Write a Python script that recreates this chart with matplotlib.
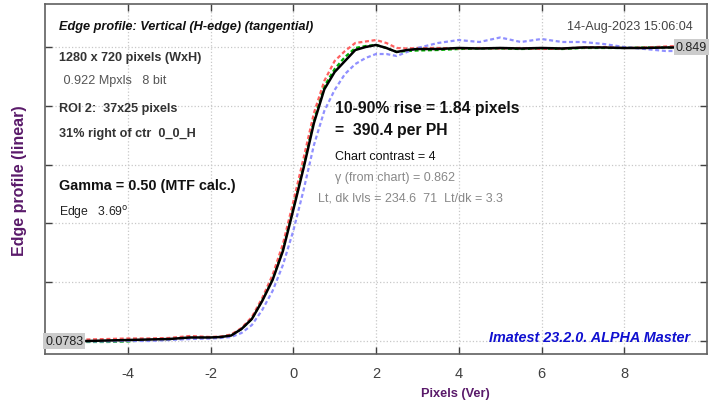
import numpy as np
import matplotlib
matplotlib.use("Agg")
import matplotlib.pyplot as plt

plt.rcParams['font.family'] = ['Liberation Sans', 'DejaVu Sans']
plt.rcParams['axes.unicode_minus'] = False

# edge profile samples (x in pixels, y linear level)
x_pix = [-5, -4.5, -4, -3.5, -3, -2.5, -2, -1.75, -1.5, -1.25, -1, -0.75, -0.5, -0.25,
         0, 0.25, 0.5, 0.75, 1, 1.25, 1.5, 1.75, 2, 2.25, 2.5, 2.75, 3, 3.5, 4, 4.5,
         5, 5.5, 6, 6.5, 7, 7.5, 8, 8.5, 9, 9.25]
black_y = [0.0783, 0.0796, 0.0809, 0.0822, 0.0835, 0.0875, 0.0875, 0.0888, 0.0927, 0.1098,
           0.1360, 0.1832, 0.2382, 0.3142, 0.4217, 0.5318, 0.6498, 0.7380, 0.7834, 0.8123,
           0.8411, 0.8490, 0.8543, 0.8464, 0.8359, 0.8411, 0.8437, 0.8437, 0.8464, 0.8451,
           0.8464, 0.8451, 0.8464, 0.8451, 0.8477, 0.8477, 0.8464, 0.8464, 0.8477, 0.8477]
red_y = [0.0822, 0.0835, 0.0849, 0.0849, 0.0862, 0.0914, 0.0888, 0.0901, 0.0953, 0.1124,
         0.1412, 0.1910, 0.2513, 0.3326, 0.4427, 0.5580, 0.6760, 0.7600, 0.8123, 0.8385,
         0.8595, 0.8634, 0.8673, 0.8595, 0.8464, 0.8451, 0.8464, 0.8464, 0.8451, 0.8464,
         0.8451, 0.8464, 0.8437, 0.8451, 0.8477, 0.8490, 0.8464, 0.8477, 0.8503, 0.8516]
blue_y = [0.0770, 0.0770, 0.0783, 0.0783, 0.0809, 0.0835, 0.0849, 0.0862, 0.0888, 0.0993,
          0.1202, 0.1596, 0.2094, 0.2775, 0.3667, 0.4741, 0.5921, 0.6812, 0.7363, 0.7782,
          0.8044, 0.8202, 0.8306, 0.8306, 0.8254, 0.8359, 0.8464, 0.8595, 0.8673, 0.8621,
          0.8739, 0.8621, 0.8700, 0.8621, 0.8621, 0.8569, 0.8490, 0.8437, 0.8385, 0.8385]
green_y = [0.0757, 0.0757, 0.0770, 0.0809, 0.0822, 0.0862, 0.0875, 0.0888, 0.0940, 0.1098,
           0.1360, 0.1858, 0.2408, 0.3195, 0.4270, 0.5397, 0.6576, 0.7460, 0.7913, 0.8228,
           0.8464, 0.8516, 0.8543, 0.8464, 0.8359, 0.8385, 0.8398, 0.8411, 0.8437, 0.8451,
           0.8451, 0.8437, 0.8451, 0.8437, 0.8464, 0.8464, 0.8464, 0.8477, 0.8477, 0.8477]

dark_lvl = 0.0783
light_lvl = 0.849
x_ticks = [-4, -2, 0, 2, 4, 6, 8]

fig = plt.figure(figsize=(7.15, 4.02), dpi=100)
ax = fig.add_axes([45/715, 1-355/402, 662/715, 350/402])

ax.plot(x_pix, green_y, color='#00b000', lw=1.6, ls=(0, (1.8, 1.2)))
ax.plot(x_pix, red_y, color='#ff6060', lw=1.6, ls=(0, (1.8, 1.2)))
ax.plot(x_pix, blue_y, color='#9090ff', lw=1.6, ls=(0, (1.8, 1.2)))
ax.plot(x_pix, black_y, color='black', lw=1.8)

ax.set_xlim(-6, 10)
ax.set_ylim(0.0442, 0.9617)
ax.set_xticks(x_ticks)
ax.set_yticks(np.linspace(dark_lvl, light_lvl, 6))
ax.set_yticklabels([])
ax.grid(True, color='#c8c8c8', ls=':', lw=0.9)
ax.tick_params(direction='in', top=True, right=True, length=5, width=1,
               colors='#404040', labelsize=10.5, pad=9)
ax.tick_params(axis='y', left=True, right=True)
for sp in ax.spines.values():
    sp.set_color('#606060')
    sp.set_linewidth(1.2)

purple = '#5a1a6a'
fig.text(455/715, 1-394/402, 'Pixels (Ver)', color=purple, fontsize=9.2,
         fontweight='bold', ha='center', va='center')
fig.text(20/715, 1-181/402, 'Edge profile (linear)', color=purple, fontsize=11.5,
         fontweight='bold', ha='center', va='center', rotation=90)

def ftxt(px, py, s, **kw):
    fig.text(px/715, 1-py/402, s, va='center', **kw)

ftxt(59, 27, 'Edge profile: Vertical (H-edge) (tangential)', fontsize=9.2,
     fontweight='bold', fontstyle='italic', color='#111111')
ftxt(693, 27, '14-Aug-2023 15:06:04', fontsize=9.1, color='#444444', ha='right')
ftxt(59, 58, '1280 x 720 pixels (WxH)', fontsize=9.1, fontweight='bold', color='#333333')
ftxt(60, 81, ' 0.922 Mpxls   8 bit', fontsize=9.1, color='#555555')
ftxt(59, 109, 'ROI 2:  37x25 pixels', fontsize=9.1, fontweight='bold', color='#333333')
ftxt(59, 134, '31% right of ctr  0_0_H', fontsize=9.1, fontweight='bold', color='#333333')
ftxt(59, 186, 'Gamma = 0.50 (MTF calc.)', fontsize=10.4, fontweight='bold', color='#111111')
ftxt(59, 213, r'Edge   3.69$^{\rm o}$', fontsize=8.8, color='#222222')
ftxt(335, 109, '10-90% rise = 1.84 pixels', fontsize=11.3, fontweight='bold', color='#111111')
ftxt(335, 131, '=  390.4 per PH', fontsize=11.3, fontweight='bold', color='#111111')
ftxt(335, 157, 'Chart contrast = 4', fontsize=9, color='#111111')
ftxt(335, 178, 'γ (from chart) = 0.862', fontsize=9, color='#888888')
ftxt(318, 199, 'Lt, dk lvls = 234.6  71  Lt/dk = 3.3', fontsize=9, color='#888888')
ftxt(690, 338, 'Imatest 23.2.0. ALPHA Master', fontsize=10.4, fontweight='bold',
     fontstyle='italic', color='#1010d0', ha='right')

ax.text(10, light_lvl, '0.849', fontsize=9, color='#222222', ha='right', va='center',
        bbox=dict(facecolor='#cccccc', edgecolor='none', pad=1.5))
ax.text(-6, dark_lvl, '0.0783', fontsize=9, color='#222222', ha='left', va='center',
        bbox=dict(facecolor='#cccccc', edgecolor='none', pad=1.5))

fig.savefig('out.png', dpi=100)
